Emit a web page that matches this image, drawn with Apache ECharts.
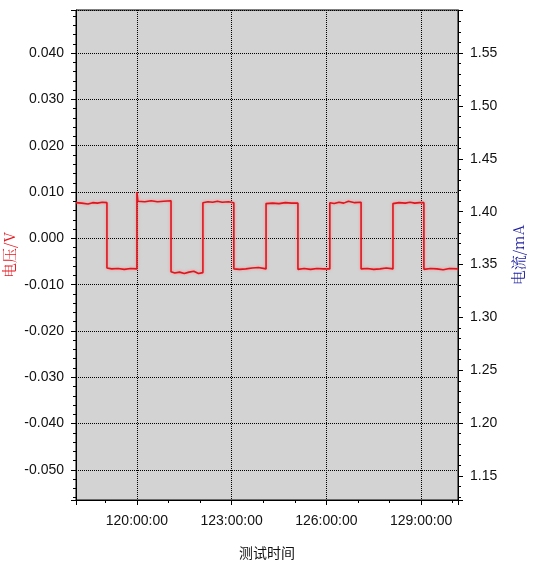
<!DOCTYPE html>
<html>
<head>
<meta charset="utf-8">
<script src="https://cdn.jsdelivr.net/npm/echarts@6/dist/echarts.min.js"></script>
<style>
  html, body { margin: 0; padding: 0; background: #fff; }
  #chart { width: 544px; height: 581px; }
</style>
</head>
<body>
<div id="chart"></div>
<script>
// test time in hours
const timeHours = [
  118.07, 118.25, 118.45, 118.60, 118.75, 118.90, 119.05,
  119.05, 119.20, 119.40, 119.60, 119.80, 120.00,
  120.00, 120.03, 120.25, 120.45, 120.65, 120.85, 121.08,
  121.08, 121.20, 121.35, 121.50, 121.65, 121.80, 121.95, 122.09,
  122.09, 122.25, 122.40, 122.55, 122.70, 122.90, 123.07,
  123.07, 123.25, 123.45, 123.65, 123.85, 124.09,
  124.09, 124.30, 124.50, 124.70, 124.90, 125.10,
  125.10, 125.30, 125.50, 125.70, 125.90, 126.11,
  126.11, 126.25, 126.40, 126.55, 126.70, 126.90, 127.10,
  127.10, 127.30, 127.50, 127.70, 127.90, 128.11,
  128.11, 128.30, 128.50, 128.65, 128.80, 128.95, 129.09,
  129.09, 129.30, 129.50, 129.70, 129.90, 130.17
];
const voltage = [
  0.0077, 0.0076, 0.0074, 0.0077, 0.0076, 0.0078, 0.0077,
  -0.0064, -0.0066, -0.0065, -0.0067, -0.0065, -0.0066,
  0.0100, 0.0080, 0.0079, 0.0081, 0.0079, 0.0080, 0.0081,
  -0.0072, -0.0075, -0.0073, -0.0076, -0.0073, -0.0071, -0.0076, -0.0074,
  0.0077, 0.0079, 0.0078, 0.0080, 0.0078, 0.0079, 0.0077,
  -0.0066, -0.0067, -0.0066, -0.0064, -0.0063, -0.0066,
  0.0075, 0.0076, 0.0075, 0.0077, 0.0076, 0.0076,
  -0.0067, -0.0065, -0.0067, -0.0065, -0.0066, -0.0066,
  0.0077, 0.0075, 0.0078, 0.0076, 0.0080, 0.0077, 0.0078,
  -0.0066, -0.0065, -0.0067, -0.0066, -0.0064, -0.0066,
  0.0075, 0.0077, 0.0076, 0.0078, 0.0076, 0.0077, 0.0077,
  -0.0067, -0.0065, -0.0066, -0.0068, -0.0065, -0.0066
];

const labelFont = { color: '#111', fontSize: 14, fontFamily: 'Liberation Sans, Arial, sans-serif' };
const dotted = { show: true, lineStyle: { color: '#000', type: 'dotted', width: 1 } };

const chart = echarts.init(document.getElementById('chart'));
chart.setOption({
  animation: false,
  grid: {
    left: 76, right: 86, top: 10, bottom: 81,
    outerBoundsMode: 'none',
    containLabel: false,
    show: true, backgroundColor: '#d3d3d3', borderColor: '#000', borderWidth: 1
  },
  xAxis: {
    type: 'value',
    min: 118.07, max: 130.17,
    splitNumber: 4,
    name: '测试时间',
    nameLocation: 'middle',
    nameGap: 46,
    nameMoveOverlap: false,
    nameTextStyle: { color: '#111', fontSize: 14, fontFamily: 'Noto Sans CJK SC' },
    axisLine: { onZero: false, lineStyle: { color: '#000' } },
    axisTick: { length: 5, lineStyle: { color: '#000' } },
    minorTick: { show: true, splitNumber: 3, length: 3, lineStyle: { color: '#000' } },
    splitLine: dotted,
    axisLabel: Object.assign({
      margin: 14, showMinLabel: false, showMaxLabel: false,
      formatter: v => Math.round(v) + ':00:00'
    }, labelFont)
  },
  yAxis: [
    {
      type: 'value',
      min: -0.0565, max: 0.0493,
      splitNumber: 10,
      name: '电压/V',
      nameLocation: 'middle',
      nameRotate: 90,
      nameGap: 59,
      nameMoveOverlap: false,
      nameTextStyle: { color: '#e8141c', fontSize: 15, fontFamily: 'Noto Serif CJK SC, Noto Sans CJK SC, serif' },
      axisLine: { show: true, onZero: false, lineStyle: { color: '#000' } },
      axisTick: { show: true, length: 5, lineStyle: { color: '#000' } },
      minorTick: { show: true, splitNumber: 5, length: 3, lineStyle: { color: '#000' } },
      splitLine: dotted,
      axisLabel: Object.assign({
        margin: 12, showMinLabel: false, showMaxLabel: false,
        formatter: v => v.toFixed(3)
      }, labelFont)
    },
    {
      type: 'value',
      position: 'right',
      min: 1.1273, max: 1.5907,
      splitNumber: 9,
      name: '电流/mA',
      nameLocation: 'middle',
      nameRotate: 90,
      nameGap: 53,
      nameMoveOverlap: false,
      nameTextStyle: { color: '#1a1aa0', fontSize: 15, fontFamily: 'Noto Serif CJK SC, Noto Sans CJK SC, serif' },
      axisLine: { show: true, onZero: false, lineStyle: { color: '#000' } },
      axisTick: { show: true, length: 5, lineStyle: { color: '#000' } },
      minorTick: { show: true, splitNumber: 5, length: 3, lineStyle: { color: '#000' } },
      splitLine: { show: false },
      axisLabel: Object.assign({
        margin: 12, showMinLabel: false, showMaxLabel: false,
        formatter: v => v.toFixed(2)
      }, labelFont)
    }
  ],
  series: [
    {
      name: '电压',
      type: 'line',
      yAxisIndex: 0,
      data: timeHours.map((t, i) => [t, voltage[i]]),
      showSymbol: false,
      lineStyle: { color: '#e0141c', width: 1.6, shadowColor: 'rgba(255,110,110,0.7)', shadowBlur: 3 },
      itemStyle: { color: '#e0141c' }
    }
  ]
});
</script>
</body>
</html>
